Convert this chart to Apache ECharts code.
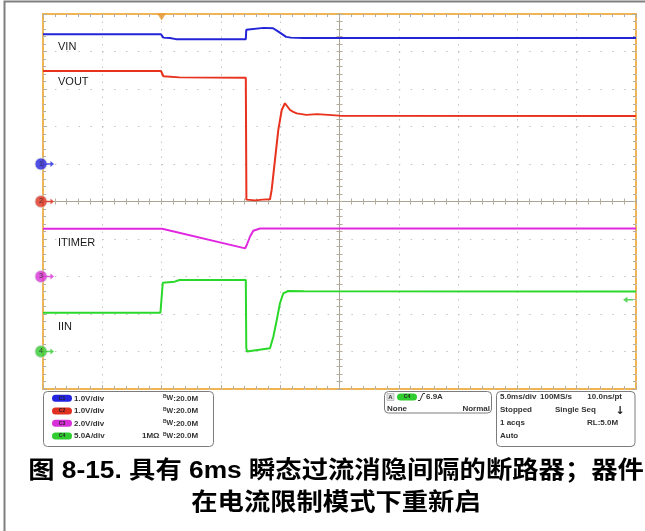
<!DOCTYPE html>
<html>
<head>
<meta charset="utf-8">
<script src="https://cdn.jsdelivr.net/npm/echarts@6/dist/echarts.min.js"></script>
<style>
  html, body { margin: 0; padding: 0; background: #fff; }
  #main { width: 645px; height: 531px; }
</style>
</head>
<body>
<div id="main"></div>
<script>
// time in ms, trigger at 0, 5 ms/div
const timeMin = -10, timeMax = 40;

// VIN (V), 1.0 V/div
const vinT = [-10, -0.05, 0.15, 0.7, 1.2, 7.1, 7.14, 8.6, 9.4, 9.85, 10.5, 10.9, 12, 40];
const vinV = [3.46, 3.46, 3.37, 3.36, 3.33, 3.33, 3.58, 3.63, 3.62, 3.53, 3.39, 3.37, 3.36, 3.36];

// VOUT (V), 1.0 V/div
const voutT = [-10, -0.05, 0.15, 1.5, 7.1, 7.15, 7.25, 7.9, 8.5, 9.14, 9.28, 9.56, 9.84, 10.13, 10.4, 10.83, 11.1, 11.4, 12.2, 13.1, 15, 40];
const voutV = [3.48, 3.48, 3.34, 3.31, 3.30, 0.05, 0.02, 0.03, 0.05, 0.06, 0.31, 1.11, 1.91, 2.44, 2.62, 2.44, 2.39, 2.35, 2.31, 2.33, 2.29, 2.28];

// ITIMER (V), 2.0 V/div
const itimerT = [-10, 0.05, 7.05, 7.18, 7.45, 7.73, 8.3, 40];
const itimerV = [2.55, 2.55, 1.50, 1.68, 2.12, 2.44, 2.56, 2.56];

// IIN (A), 5.0 A/div
const iinT = [-10, -0.1, 0.1, 1.1, 1.5, 7.1, 7.14, 7.2, 9.14, 9.42, 9.71, 9.98, 10.26, 10.68, 12, 40];
const iinV = [5.17, 5.17, 9.17, 9.31, 9.53, 9.55, 0.5, 0.0, 0.43, 1.97, 4.2, 6.43, 7.76, 8.07, 8.02, 8.0];

const trigLevel = 6.9; // A on C4

const chNames = ['VIN', 'VOUT', 'ITIMER', 'IIN'];
const chTimes = [vinT, voutT, itimerT, iinT];
const chValues = [vinV, voutV, itimerV, iinV];
// per-channel screen scale: [value at bottom, value at top] (10 div, ground marker position)
const chRanges = [[-6, 4], [-5, 5], [-6, 14], [-5, 45]];
const chColors = ['#2323d8', '#e8321e', '#e028e0', '#2ad82a'];
const chMarkColors = ['#2424e0', '#e03020', '#d830d8', '#30cc30'];

const tickColor = '#b4ac9c';
const crossColor = '#aaa494';
const dotColor = '#c4c4c4';
const borderColor = '#f0b452';

const chart = echarts.init(document.getElementById('main'), null, { renderer: 'canvas' });

function divAxis(position, opts) {
  return Object.assign({
    type: 'value', min: -5, max: 5, interval: 1, position: position,
    axisLine: { show: false, onZero: false },
    axisLabel: { show: false },
    axisTick: { show: true, inside: true, length: 4, lineStyle: { color: tickColor } },
    minorTick: { show: true, splitNumber: 5, length: 3, lineStyle: { color: tickColor } },
    splitLine: { show: false }
  }, opts || {});
}

function crossAxis(position) {
  return divAxis(position, {
    axisLine: { show: true, onZero: true, onZeroAxisIndex: 0, lineStyle: { color: crossColor, width: 1 } },
    axisTick: { show: true, inside: false, length: 3, lineStyle: { color: tickColor } },
    minorTick: { show: true, splitNumber: 5, length: 3, lineStyle: { color: tickColor } }
  });
}

const xAxes = [
  divAxis('bottom', { splitLine: { show: true, lineStyle: { color: dotColor, width: 1, type: [1.5, 6] } } }),
  divAxis('top'),
  crossAxis('bottom'),
  crossAxis('top'),
  { type: 'value', min: timeMin, max: timeMax, show: false, axisLine: { onZero: false } }
];
const yAxes = [
  divAxis('left', { splitLine: { show: true, lineStyle: { color: dotColor, width: 1, type: [1.5, 10.36] } } }),
  divAxis('right'),
  crossAxis('left'),
  crossAxis('right')
];
chRanges.forEach(function (r) {
  yAxes.push({ type: 'value', min: r[0], max: r[1], show: false, axisLine: { onZero: false } });
});

const arrowRight = 'path://M0,2.5 L5,2.5 L5,0 L9,3.5 L5,7 L5,4.5 L0,4.5 Z';
const arrowLeft = 'path://M9,2.5 L4,2.5 L4,0 L0,3.5 L4,7 L4,4.5 L9,4.5 Z';

const series = [];
chNames.forEach(function (name, i) {
  series.push({
    name: name, type: 'line', xAxisIndex: 4, yAxisIndex: 4 + i,
    data: chTimes[i].map(function (t, k) { return [t, chValues[i][k]]; }),
    showSymbol: false, symbol: 'none', z: 3,
    lineStyle: { color: chColors[i], width: 2 }
  });
  // ground marker of each channel
  series.push({
    type: 'scatter', xAxisIndex: 4, yAxisIndex: 4 + i, clip: false, z: 5,
    data: [
      {
        value: [timeMin, 0], symbol: 'circle', symbolSize: 12, symbolOffset: [-2, 0],
        itemStyle: { color: chMarkColors[i], borderColor: '#d8d8d8', borderWidth: 1 },
        label: { show: true, position: 'inside', formatter: String(i + 1), fontSize: 7, color: '#222', fontFamily: 'Liberation Sans' }
      },
      {
        value: [timeMin, 0], symbol: arrowRight, symbolSize: [8, 6], symbolOffset: [7, 0],
        itemStyle: { color: chMarkColors[i] }
      }
    ]
  });
});
// trigger position (top) and trigger level (right, C4)
series.push({
  type: 'scatter', xAxisIndex: 4, yAxisIndex: 0, clip: false, z: 5,
  data: [{ value: [0, 5], symbol: 'triangle', symbolRotate: 180, symbolSize: [9, 7], symbolOffset: [0, 3], itemStyle: { color: '#e8962c' } }]
});
series.push({
  type: 'scatter', xAxisIndex: 4, yAxisIndex: 7, clip: false, z: 5,
  data: [{ value: [timeMax, trigLevel], symbol: arrowLeft, symbolSize: [10, 6], symbolOffset: [-8, 0], itemStyle: { color: chMarkColors[3] } }]
});

const panelFont = { fontFamily: 'Liberation Sans', fontWeight: 'bold', fontSize: 8, fill: '#333' };
function txt(x, y, s, extra) {
  return { type: 'text', x: x, y: y, z: 10, style: Object.assign({ text: s, textVerticalAlign: 'middle' }, panelFont, extra || {}) };
}
function box(x, y, w, h) {
  return { type: 'rect', z: 9, shape: { x: x, y: y, width: w, height: h, r: 4 }, style: { fill: '#fff', stroke: '#7c7c7c', lineWidth: 1 } };
}
function pill(x, y, color, label) {
  return [
    { type: 'rect', z: 10, shape: { x: x, y: y - 3.5, width: 20, height: 7, r: 3.5 }, style: { fill: color } },
    txt(x + 10, y, label, { textAlign: 'center', fontSize: 5, fill: '#222' })
  ];
}

const vdivText = ['1.0V/div', '1.0V/div', '2.0V/div', '5.0A/div'];
const rowY = [398.3, 411, 423.3, 436];
let graphics = [
  { type: 'rect', z: 0, shape: { x: 4.5, y: 1.5, width: 700, height: 600 }, style: { fill: 'none', stroke: '#808080', lineWidth: 2 } },
  txt(58, 46.7, 'VIN', { fontWeight: 'normal', fontSize: 11, fill: '#1a1a1a' }),
  txt(58, 81.7, 'VOUT', { fontWeight: 'normal', fontSize: 11, fill: '#1a1a1a' }),
  txt(58, 242.7, 'ITIMER', { fontWeight: 'normal', fontSize: 11, fill: '#1a1a1a' }),
  txt(58, 326.7, 'IIN', { fontWeight: 'normal', fontSize: 11, fill: '#1a1a1a' }),
  box(43.5, 391.5, 170, 55),
  box(384.5, 391.5, 107, 21.5),
  box(496.5, 391.5, 138.5, 55)
];
rowY.forEach(function (y, i) {
  graphics = graphics.concat(pill(52, y, chMarkColors[i], 'C' + (i + 1)));
  graphics.push(txt(74, y, vdivText[i]));
  graphics.push({
    type: 'text', x: 163, y: y, z: 10,
    style: {
      text: '{b|B}{w|W}:20.0M', textVerticalAlign: 'middle',
      fontFamily: 'Liberation Sans', fontWeight: 'bold', fontSize: 8, fill: '#333',
      rich: { b: { fontSize: 5, verticalAlign: 'top', fontWeight: 'bold' }, w: { fontSize: 7, fontWeight: 'bold' } }
    }
  });
});
graphics.push(txt(142, rowY[3], '1MΩ'));
// trigger box
graphics.push({ type: 'rect', z: 10, shape: { x: 387, y: 393.5, width: 7, height: 7 }, style: { fill: '#e4e4e4', stroke: '#999', lineWidth: 0.5 } });
graphics.push(txt(390.5, 397, 'A', { textAlign: 'center', fontSize: 6 }));
graphics = graphics.concat(pill(397, 397, chMarkColors[3], 'C4'));
graphics.push({ type: 'polyline', z: 10, shape: { points: [[418, 400.5], [420, 400.5], [423, 393.5], [425, 393.5]] }, style: { stroke: '#333', lineWidth: 1, fill: 'none' } });
graphics.push(txt(426, 397, '6.9A'));
graphics.push(txt(387, 409, 'None'));
graphics.push(txt(490, 409, 'Normal', { textAlign: 'right' }));
// timebase box
graphics.push(txt(500, 397, '5.0ms/div'));
graphics.push(txt(540, 397, '100MS/s'));
graphics.push(txt(622, 397, '10.0ns/pt', { textAlign: 'right' }));
graphics.push(txt(500, 410, 'Stopped'));
graphics.push(txt(555, 410, 'Single Seq'));
graphics.push(txt(620, 411, '↓', { textAlign: 'center', fontSize: 11, fontFamily: 'DejaVu Sans', fill: '#222' }));
graphics.push(txt(500, 423, '1 acqs'));
graphics.push(txt(587, 423, 'RL:5.0M'));
graphics.push(txt(500, 436, 'Auto'));
// caption (slightly widened to match the source's spacing)
const capFont = { fontFamily: '"Liberation Sans", "Noto Sans CJK SC"', fontWeight: 'bold', fontSize: 23.5, fill: '#000', textAlign: 'center' };
const cap1 = txt(336, 472, '图 8-15. 具有 6ms 瞬态过流消隐间隔的断路器；器件', capFont);
const cap2 = txt(336, 503.5, '在电流限制模式下重新启', capFont);
cap1.scaleX = 1.12;
cap2.scaleX = 1.12;
graphics.push(cap1, cap2);

chart.setOption({
  animation: false,
  backgroundColor: '#fff',
  grid: {
    left: 43, top: 14, width: 593, height: 375,
    show: true, backgroundColor: '#fff', borderColor: borderColor, borderWidth: 2,
    containLabel: false, outerBoundsMode: 'none'
  },
  xAxis: xAxes,
  yAxis: yAxes,
  series: series,
  graphic: graphics
});
</script>
</body>
</html>
